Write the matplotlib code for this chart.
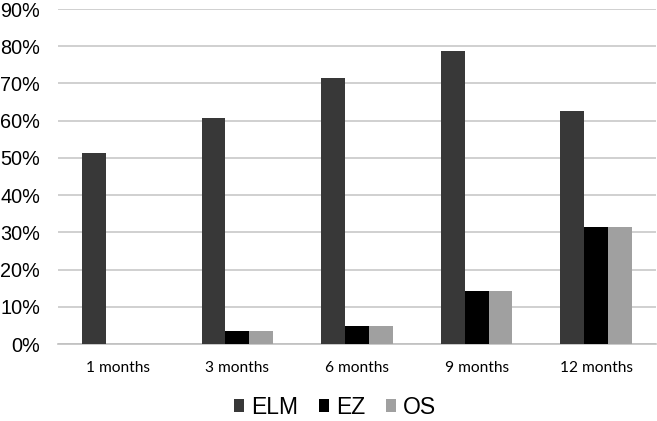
import numpy as np
import matplotlib
matplotlib.use('Agg')
from matplotlib import pyplot as plt

# Data
categories = ['1 months', '3 months', '6 months', '9 months', '12 months']
elm = [51.3, 60.7, 71.4, 78.6, 62.5]
ez = [0.0, 3.6, 4.8, 14.3, 31.3]
os_vals = [0.0, 3.6, 4.8, 14.3, 31.3]

series_names = ['ELM', 'EZ', 'OS']
colors = ['#383838', '#000000', '#a0a0a0']

fig = plt.figure(figsize=(6.57, 4.21), dpi=100)
ax = fig.add_axes([58 / 657, 77 / 421, 598 / 657, 335 / 421])

x = np.arange(len(categories))
w = 0.2
for i, (vals, name, c) in enumerate(zip([elm, ez, os_vals], series_names, colors)):
    ax.bar(x + (i - 1) * w, vals, w, color=c, label=name, zorder=3)

ax.set_xlim(-0.5, len(categories) - 0.5)
ax.set_ylim(0, 90)
ax.set_yticks(np.arange(0, 91, 10))
ax.set_yticklabels([f'{v}%' for v in range(0, 91, 10)],
                   fontsize=14.3, family='Liberation Sans')
ax.set_xticks(x)
ax.set_xticklabels(categories, fontsize=11.2, family='Lato')
ax.tick_params(axis='both', length=0)
ax.tick_params(axis='y', pad=13)
ax.tick_params(axis='x', pad=12)

ax.grid(axis='y', color='#c8c8c8', linewidth=1.2, zorder=0)
for s in ['top', 'right', 'left']:
    ax.spines[s].set_visible(False)
ax.spines['bottom'].set_color('#c0c0c0')
ax.spines['bottom'].set_linewidth(1.2)

fig.legend(loc='center', bbox_to_anchor=(0.51, 0.033), ncol=3, frameon=False,
           prop={'family': 'Liberation Sans', 'size': 16.5},
           handlelength=0.45, handleheight=0.45, handletextpad=0.3,
           columnspacing=0.9)

fig.savefig('out.png', dpi=100)
